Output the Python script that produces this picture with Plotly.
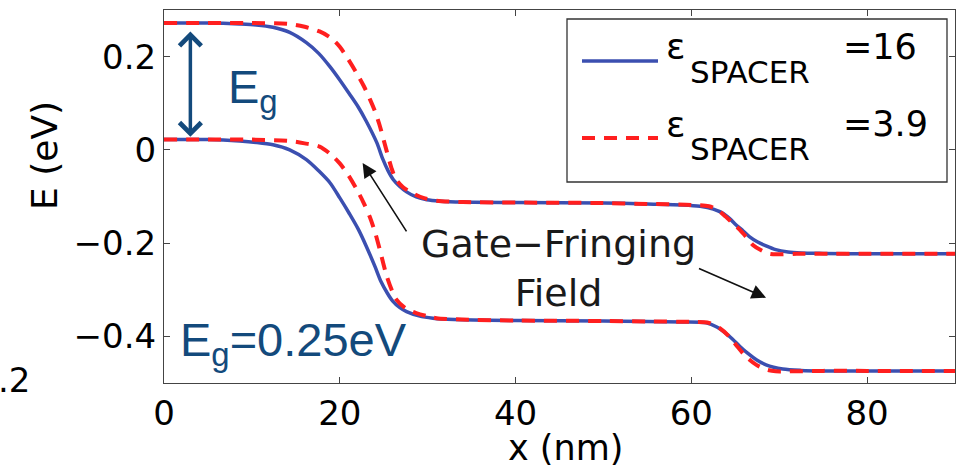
import plotly.graph_objects as go

# ---------------- data ----------------
# conduction band, eps_spacer = 16 (solid blue)
x_cb16 = [0, 5, 8.6, 10.5, 12.4, 14.3, 16.2, 17.6, 18.9, 20.0, 21.1, 22.1, 23.0, 24.2, 24.9, 25.5,
          26.1, 26.8, 27.6, 28.7, 29.9, 31.4, 34, 40, 50, 55, 59, 61, 62.5, 63.6, 64.4, 65.1, 65.9,
          66.6, 67.5, 68.5, 69.6, 71, 72.5, 75, 80, 90]
y_cb16 = [0.272, 0.272, 0.270, 0.268, 0.263, 0.252, 0.230, 0.207, 0.178, 0.150, 0.120, 0.092, 0.062,
          0.016, -0.020, -0.045, -0.064, -0.078, -0.090, -0.101, -0.107, -0.110, -0.112, -0.113,
          -0.114, -0.116, -0.118, -0.121, -0.127, -0.136, -0.148, -0.161, -0.174, -0.186, -0.197,
          -0.206, -0.214, -0.219, -0.221, -0.222, -0.223, -0.223]
# valence band, eps_spacer = 16
x_vb16 = [0, 5, 8.6, 10.5, 12.4, 14.3, 16.2, 17.6, 18.9, 20.0, 21.1, 22.1, 23.0, 24.0, 24.7, 25.4,
          26.0, 26.8, 27.6, 29.0, 30.6, 33, 40, 50, 55, 59, 61.7, 62.9, 63.9, 64.7, 65.5, 66.4, 67.4,
          68.5, 70.4, 72.5, 75, 80, 90]
y_vb16 = [0.022, 0.022, 0.019, 0.016, 0.011, 0.000, -0.021, -0.045, -0.071, -0.103, -0.137, -0.170,
          -0.206, -0.250, -0.283, -0.307, -0.324, -0.338, -0.347, -0.356, -0.361, -0.364, -0.366,
          -0.367, -0.368, -0.369, -0.371, -0.380, -0.393, -0.406, -0.421, -0.436, -0.450, -0.461,
          -0.470, -0.473, -0.474, -0.474, -0.474]
# conduction band, eps_spacer = 3.9 (dashed red)
x_cb39 = [0, 10, 14.3, 16.0, 17.7, 19.0, 20.0, 21.0, 21.9, 22.7, 23.4, 24.0, 24.5, 25.3, 25.9, 26.4,
          27.2, 28.3, 29.5, 31, 34, 40, 50, 55, 60, 62, 63.0, 63.9, 64.7, 65.5, 66.3, 67.0, 68.0,
          68.9, 70, 72, 75, 80, 90]
y_cb39 = [0.272, 0.272, 0.270, 0.264, 0.254, 0.240, 0.221, 0.193, 0.165, 0.138, 0.110, 0.083, 0.055,
          0.000, -0.040, -0.063, -0.080, -0.093, -0.103, -0.109, -0.112, -0.113, -0.114, -0.116,
          -0.118, -0.121, -0.129, -0.143, -0.157, -0.171, -0.188, -0.204, -0.216, -0.223, -0.224,
          -0.223, -0.223, -0.223, -0.223]
# valence band, eps_spacer = 3.9
x_vb39 = [0, 10, 14.3, 16.0, 17.7, 19.0, 20.0, 21.0, 21.9, 22.7, 23.4, 24.0, 24.5, 25.3, 25.9, 26.4,
          27.5, 28.7, 30, 31, 34, 40, 50, 55, 60, 62, 63.2, 64.3, 65.2, 66.2, 67.4, 68.5, 69.6, 71,
          75, 80, 90]
y_vb39 = [0.022, 0.022, 0.019, 0.014, 0.007, -0.010, -0.029, -0.055, -0.084, -0.113, -0.143, -0.176,
          -0.210, -0.268, -0.300, -0.320, -0.340, -0.350, -0.357, -0.361, -0.364, -0.366, -0.367,
          -0.368, -0.369, -0.371, -0.382, -0.400, -0.421, -0.443, -0.461, -0.471, -0.475, -0.475,
          -0.474, -0.474, -0.474]

x_ticks = [0, 20, 40, 60, 80]
y_ticks = [0.2, 0, -0.2, -0.4]
y_ticktext = ["0.2", "0", "\u22120.2", "\u22120.4"]
legend_values = ["=16", "=3.9"]

# ---------------- styles ----------------
BLUE = "#3b4fb0"
RED = "#ff1f1f"
DARK = "#134a7c"
FONT = "DejaVu Sans"
W, H = 963, 467
L, R, T, B = 164, 8, 10, 84
PW, PH = W - L - R, H - T - B


def px(xp):
    return (xp - L) / PW


def py(yp):
    return (H - B - yp) / PH


fig = go.Figure()
for xs, ys in [(x_cb16, y_cb16), (x_vb16, y_vb16)]:
    fig.add_trace(go.Scatter(x=xs, y=ys, mode="lines", showlegend=False,
                             line=dict(color=BLUE, width=3.5, shape="spline", smoothing=0.8)))
for xs, ys in [(x_cb39, y_cb39), (x_vb39, y_vb39)]:
    fig.add_trace(go.Scatter(x=xs, y=ys, mode="lines", showlegend=False,
                             line=dict(color=RED, width=4, dash="13px,9px",
                                       shape="spline", smoothing=0.8)))

ann = []
# Eg double arrow
ann.append(dict(x=3, y=0.028, ax=3, ay=0.257, xref="x", yref="y", axref="x", ayref="y",
                text="", showarrow=True, arrowhead=4, startarrowhead=4, arrowside="end+start",
                arrowsize=1.2, startarrowsize=1.2, arrowwidth=3.5, arrowcolor=DARK))
ann.append(dict(x=px(226), y=py(90), xref="paper", yref="paper", xanchor="left", yanchor="middle",
                text="E<sub>g</sub>", showarrow=False,
                font=dict(family="Liberation Sans", size=47, color=DARK)))
ann.append(dict(x=px(178), y=py(343), xref="paper", yref="paper", xanchor="left", yanchor="middle",
                text="E<sub>g</sub>=0.25eV", showarrow=False,
                font=dict(family="Liberation Sans", size=47, color=DARK)))
# Gate-fringing text and arrows
ann.append(dict(x=px(558), y=py(268), xref="paper", yref="paper", xanchor="center", yanchor="middle",
                text="Gate\u2212Fringing<br>Field", showarrow=False, align="center",
                font=dict(family=FONT, size=38, color="#1a1a1a")))
ann.append(dict(x=22.6, y=-0.028, ax=27.7, ay=-0.178, xref="x", yref="y", axref="x", ayref="y",
                text="", showarrow=True, arrowhead=2, arrowsize=1.8, arrowwidth=1.6,
                arrowcolor="#111111"))
ann.append(dict(x=68.5, y=-0.317, ax=60.7, ay=-0.253, xref="x", yref="y", axref="x", ayref="y",
                text="", showarrow=True, arrowhead=2, arrowsize=1.8, arrowwidth=1.6,
                arrowcolor="#111111"))
# axis titles
ann.append(dict(x=px(565), y=py(448), xref="paper", yref="paper", xanchor="center", yanchor="middle",
                text="x (nm)", showarrow=False, font=dict(family=FONT, size=35, color="black")))
ann.append(dict(x=px(44), y=py(156), xref="paper", yref="paper", xanchor="center", yanchor="middle",
                text="E (eV)", textangle=-90, showarrow=False,
                font=dict(family=FONT, size=36, color="black")))
# clipped label of neighbouring panel
ann.append(dict(x=px(32), y=py(380), xref="paper", yref="paper", xanchor="right", yanchor="middle",
                text=".2", showarrow=False, font=dict(family=FONT, size=34, color="black")))

# manual legend
shapes = [dict(type="rect", xref="paper", yref="paper", x0=px(567), x1=px(947), y0=py(182),
               y1=py(19), line=dict(color="#333333", width=1.3), fillcolor="white", layer="above")]
rows = [(61, BLUE, None, 3.5), (138, RED, "13px,9px", 4)]
for (yy, col, dash, wid), val in zip(rows, legend_values):
    shapes.append(dict(type="line", xref="paper", yref="paper", x0=px(582), x1=px(658),
                       y0=py(yy), y1=py(yy), layer="above",
                       line=dict(color=col, width=wid, dash=dash if dash else "solid")))
    ann.append(dict(x=px(664), y=py(yy - 14), xref="paper", yref="paper", xanchor="left",
                    yanchor="middle", text="\u03b5", showarrow=False,
                    font=dict(family=FONT, size=36, color="black")))
    ann.append(dict(x=px(688), y=py(yy + 11), xref="paper", yref="paper", xanchor="left",
                    yanchor="middle", text="SPACER", showarrow=False,
                    font=dict(family=FONT, size=31, color="black")))
    ann.append(dict(x=px(841), y=py(yy - 14), xref="paper", yref="paper", xanchor="left",
                    yanchor="middle", text=val, showarrow=False,
                    font=dict(family=FONT, size=35, color="black")))

axis_common = dict(showgrid=False, zeroline=False, showline=True, linecolor="#444444", linewidth=1.2,
                   mirror="ticks", ticks="inside", ticklen=6, tickcolor="#444444", tickwidth=1,
                   tickfont=dict(family=FONT, size=34, color="black"))
fig.update_layout(
    width=W, height=H, margin=dict(l=L, r=R, t=T, b=B),
    paper_bgcolor="white", plot_bgcolor="white",
    xaxis=dict(range=[0, 90], tickvals=x_ticks, ticktext=[str(v) for v in x_ticks], **axis_common),
    yaxis=dict(range=[-0.5, 0.3], tickvals=y_ticks, ticktext=y_ticktext, **axis_common),
    annotations=ann, shapes=shapes, showlegend=False,
)
fig.write_html("out.html")
